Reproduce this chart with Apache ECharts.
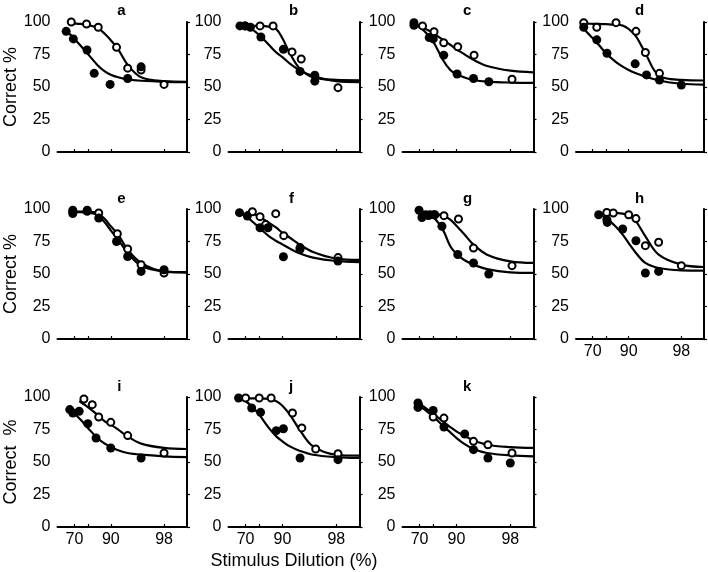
<!DOCTYPE html>
<html><head><meta charset="utf-8">
<script src="https://cdn.jsdelivr.net/npm/echarts@6/dist/echarts.min.js"></script>
<style>html,body{margin:0;padding:0;background:#fff}#c{width:708px;height:572px}</style>
</head><body><div id="c"></div>
<script>
// ---------- DATA (x = stimulus dilution %, y = correct %) ----------
const panelLetters = ['a','b','c','d','e','f','g','h','i','j','k'];
const xTickValues = [70, 80, 90, 98];
const xLabelValues = [70, 90, 98];
const yTickInterval = 25;

const filledA = [[61.5,92.8],[69,87],[79.5,78.5],[83.5,60.5],[89.8,52],[94,56.5],[96,65.5]];
const openA   = [[67,100],[79.2,98.5],[85.4,96],[91.6,80.5],[94,64.5],[96,63],[98,52]];
const fitFilledA = [[62,92],[65,91],[70,87],[75,82],[80,75.5],[85,67],[88,62],[90,59.5],[92,57.5],[94,55.8],[96,54.8],[98,54],[99,53.8]];
const fitOpenA   = [[65,99],[70,98.8],[75,98.5],[80,97.8],[85,95.5],[88,91],[90,86],[92,79],[94,67],[96,57.5],[98,54.5],[99,54]];

const filledB = [[64.5,97],[69.5,97],[74,96],[81,88.5],[90.3,79],[94.1,62],[96.2,59],[96.2,54.5]];
const openB   = [[69.5,97],[80.5,97],[86.8,97],[92.5,77],[94.3,71.5],[98.1,49.5]];
const fitFilledB = [[65,97],[70,96.5],[75,94.5],[80,90],[85,82.5],[88,76.5],[90,73],[92,68],[94,63],[96,58.5],[98,54.5],[99,53.8]];
const fitOpenB   = [[65,97],[70,97],[75,97],[80,97],[85,96.5],[88,94.5],[90,87.5],[92,76],[94,64.5],[96,57.5],[98,55.5],[99,55.2]];

const filledC = [[64.5,99.5],[64.5,97.5],[77.5,88],[80,87],[85.4,74.5],[90.2,60],[94,56.5],[96.2,54]];
const openC   = [[72.5,97],[80.5,92.5],[85.4,84],[90.4,81],[94.1,74.5],[98.1,56]];
const fitFilledC = [[65,98],[70,96],[75,92],[80,85],[85,71],[88,63],[90,60],[92,57.5],[94,55.4],[96,54.1],[98,53.4],[99,53.2]];
const fitOpenC   = [[65,98.7],[70,96.6],[75,94.6],[80,91.5],[85,86.3],[88,82.5],[90,79],[92,75.5],[94,70.9],[96,66.2],[98,62.6],[99,61.3]];

const filledD = [[60.5,96],[73.5,86.3],[80.6,76],[91.8,67.8],[94.2,59.3],[96.1,55.4],[98,51.5]];
const openD   = [[60.5,99.5],[73.5,96],[85.3,99.5],[92,92.8],[94,76.5],[96.1,60.5]];
const fitFilledD = [[60,95.4],[65,91.5],[70,87.6],[75,82.5],[80,76],[85,69.6],[88,65.7],[90,63.1],[92,60.6],[94,58],[96,55],[98,52.5],[99,51.8]];
const fitOpenD   = [[60,98.7],[65,98.7],[70,98.6],[75,98.5],[80,98.3],[85,98],[88,97.2],[90,94.6],[92,88.9],[94,76],[96,59],[98,55.5],[99,55]];

const filledE = [[68.5,99],[68.5,96.5],[79.6,99],[85.6,93],[91.6,75],[94,63.5],[96,52],[98,53.3]];
const openE   = [[68.5,97.7],[79.6,98.2],[85.6,97],[91.8,81],[94,69.2],[96,57.2],[98,50.8]];
const fitFilledE = [[65,97.5],[70,97.5],[75,97.5],[80,97.2],[85,95.5],[88,89.7],[90,83.6],[92,76.4],[94,66.2],[96,56.4],[98,52],[99,51.3]];
const fitOpenE   = [[65,98],[70,98],[75,98],[80,98],[85,96.9],[88,92.3],[90,86.7],[92,80.3],[94,68.7],[96,58.5],[98,52],[99,51.3]];

const filledF = [[64,97.2],[71.5,94.6],[80.5,85.6],[84.6,85.6],[90.3,63.3],[94.1,70.3],[98.1,60]];
const openF   = [[75.5,97.9],[80.5,94.1],[83.5,88],[87.8,96.4],[90.4,79.5],[94.1,69],[98.1,62.6]];
const fitFilledF = [[63,97.2],[65,96.5],[70,94.6],[75,90.8],[80,85.6],[85,79.2],[88,75.4],[90,72.8],[92,69.5],[94,65.9],[96,62.6],[98,60],[99,59.2]];
const fitOpenF   = [[70.5,97.9],[75,96.7],[80,94.1],[85,89.5],[88,85.6],[90,81.7],[92,77.9],[94,72.8],[96,66.9],[98,61.8],[99,60.8]];

const filledG = [[69.5,99],[72,93.5],[75,95.5],[78,95.5],[81,95.5],[84.6,86.7],[90.4,65],[94,58.5],[96.2,50]];
const openG   = [[77,95],[80.5,95.6],[85.5,94.9],[90.6,92.3],[94,70],[98.1,56.4]];
const fitFilledG = [[70,98.2],[75,95.6],[80,93.8],[85,84.1],[88,71.3],[90,65.6],[92,61],[94,57.2],[96,53.8],[98,51.3],[99,50.8]];
const fitOpenG   = [[75,96.9],[80,96.4],[85,94.9],[88,91.8],[90,87.2],[92,81],[94,72.6],[96,64.9],[98,59.7],[99,58.5]];

const filledH = [[75,95.6],[80.5,91.8],[80.8,89.7],[88,84.6],[92,75.6],[94,50.8],[96,52]];
const openH   = [[80.5,97.4],[84,96.9],[90,95.6],[92,92.6],[94,71.8],[96,74.4],[98,56.4]];
const fitFilledH = [[75,96.1],[80,93.1],[85,86.7],[88,80.3],[90,73.8],[92,66.2],[94,58.5],[96,54.6],[98,52.8],[99,52.6]];
const fitOpenH   = [[80,97.4],[85,96.9],[88,96.4],[90,94.9],[92,90.5],[94,79],[96,64.9],[98,57.2],[99,55.4]];

const filledI = [[65.5,90.3],[68.5,87.7],[74,89],[80,79.5],[84.4,68.5],[90,60.8],[96,53.1]];
const openI   = [[77.5,98.5],[82.5,94.1],[85.6,84.6],[90,80.5],[94,70.3],[98,56.9]];
const fitFilledI = [[65,90.8],[70,87.2],[75,82.6],[80,76.2],[85,68.5],[88,64.1],[90,61.5],[92,59],[94,56.9],[96,55.6],[98,54.4],[99,53.8]];
const fitOpenI   = [[74,96.7],[75,96.2],[80,92.3],[85,86.4],[88,81.3],[90,78.7],[92,74.9],[94,69.7],[96,64.1],[98,60.8],[99,60]];

const filledJ = [[63,99.2],[75,91.5],[80.8,88.2],[88,74.1],[90.3,75.6],[94.1,53.1],[98.1,51.8]];
const openJ   = [[70,99.2],[80,99.2],[86,99.2],[92.6,87.7],[94.4,76.2],[96.3,60],[98.1,56.4]];
const fitFilledJ = [[64,98.7],[65,98.5],[70,96.7],[75,92.8],[80,86.4],[85,76.2],[88,69.7],[90,65.9],[92,62],[94,58.7],[96,55.6],[98,53.8],[99,53.1]];
const fitOpenJ   = [[63,99.2],[70,99],[75,99],[80,99],[85,98.5],[88,96.7],[90,93.3],[92,86.4],[94,74.9],[96,62],[98,55.6],[99,54.9]];

const filledK = [[68.5,95.4],[68.5,92],[80,89.7],[85.5,76.9],[92.2,71.5],[94,59.5],[96.1,53.1],[98,49.2]];
const openK   = [[69,94.1],[80,84.6],[85.5,83.8],[94,65.9],[96.1,63.3],[98.1,56.9]];
const fitFilledK = [[68,95.4],[70,93.3],[75,89.7],[80,85.1],[85,77.9],[88,72.8],[90,68.5],[92,64.1],[94,60],[96,56.9],[98,55.1],[99,54.4]];
const fitOpenK   = [[68,96.7],[70,94.9],[75,91.5],[80,87.2],[85,81.3],[88,76.9],[90,73.6],[92,70.3],[94,66.7],[96,63.3],[98,61.5],[99,60.8]];

const yAxisTitles = {a:'Correct %', e:'Correct %', i:'Correct  %'};
const xAxisTitle = 'Stimulus Dilution (%)';

// ---------- build ----------
const panelData = {
  a:[filledA,openA,fitFilledA,fitOpenA], b:[filledB,openB,fitFilledB,fitOpenB],
  c:[filledC,openC,fitFilledC,fitOpenC], d:[filledD,openD,fitFilledD,fitOpenD],
  e:[filledE,openE,fitFilledE,fitOpenE], f:[filledF,openF,fitFilledF,fitOpenF],
  g:[filledG,openG,fitFilledG,fitOpenG], h:[filledH,openH,fitFilledH,fitOpenH],
  i:[filledI,openI,fitFilledI,fitOpenI], j:[filledJ,openJ,fitFilledJ,fitOpenJ],
  k:[filledK,openK,fitFilledK,fitOpenK]
};
const FONT = '"Liberation Sans", Arial, Helvetica, sans-serif';
const colLeft = [57.5, 228.5, 402.5, 576];
const colWidth = [129.5, 131, 131, 128];
const rowTop = [22, 209, 397];
const rowTitleTop = [3, 191, 379];
const gridH = 130;
const labelledX = ['h','i','j','k'];

// x axis: log scale of remaining concentration (100 - dilution), reversed
const toU = d => Math.log10(100 - d);
const conv = arr => arr.map(p => [toU(p[0]), p[1]]);

const grids = [], xAxes = [], yAxes = [], series = [], graphics = [];
panelLetters.forEach((L, idx) => {
  const row = Math.floor(idx / 4), col = idx % 4;
  grids.push({left: colLeft[col], top: rowTop[row], width: colWidth[col], height: gridH, containLabel: false});
  const showXL = labelledX.includes(L);
  xAxes.push({
    type: 'value', gridIndex: idx, inverse: true, min: 0, max: Math.log10(50),
    axisLine: {show: true, lineStyle: {color: '#000', width: 2}},
    axisTick: {show: true, inside: true, length: 3, lineStyle: {color: '#000', width: 1.2},
               customValues: xTickValues.map(toU)},
    axisLabel: {show: showXL, color: '#000', fontFamily: FONT, fontSize: 16, margin: 5,
                customValues: xLabelValues.map(toU),
                formatter: v => String(Math.round(100 - Math.pow(10, v)))},
    splitLine: {show: false},
    name: L === 'j' ? xAxisTitle : '', nameLocation: 'middle', nameGap: 25,
    nameTextStyle: {color: '#000', fontFamily: FONT, fontSize: 18}
  });
  yAxes.push({
    type: 'value', gridIndex: idx, min: 0, max: 100, interval: yTickInterval,
    axisLine: {show: true, lineStyle: {color: '#000', width: 2}},
    axisTick: {show: true, inside: true, length: 3, lineStyle: {color: '#000', width: 1.2}},
    axisLabel: {color: '#000', fontFamily: FONT, fontSize: 16, margin: 7},
    splitLine: {show: false},
    name: yAxisTitles[L] || '', nameLocation: 'middle', nameGap: 37, nameRotate: 90,
    nameTextStyle: {color: '#000', fontFamily: FONT, fontSize: 18}
  });
  const [filled, open, fitF, fitO] = panelData[L];
  const lineBase = {type: 'line', xAxisIndex: idx, yAxisIndex: idx, showSymbol: false, smooth: 0.35,
    lineStyle: {color: '#000', width: 2.2}, z: 2, silent: true};
  series.push(Object.assign({}, lineBase, {data: conv(fitF)}));
  series.push(Object.assign({}, lineBase, {data: conv(fitO)}));
  series.push({type: 'scatter', xAxisIndex: idx, yAxisIndex: idx, data: conv(open), symbol: 'circle',
    symbolSize: 7, itemStyle: {color: '#fff', borderColor: '#000', borderWidth: 2, opacity: 1}, z: 3});
  series.push({type: 'scatter', xAxisIndex: idx, yAxisIndex: idx, data: conv(filled), symbol: 'circle',
    symbolSize: 9, itemStyle: {color: '#000', opacity: 1}, z: 4});
  graphics.push({type: 'text', left: colLeft[col] + colWidth[col] / 2 - 5, top: rowTitleTop[row],
    style: {text: L, fill: '#000', font: 'bold 15px ' + FONT}});
});

const chart = echarts.init(document.getElementById('c'), null, {renderer: 'canvas'});
chart.setOption({
  animation: false, backgroundColor: '#fff',
  grid: grids, xAxis: xAxes, yAxis: yAxes, series: series, graphic: graphics
});
</script></body></html>
